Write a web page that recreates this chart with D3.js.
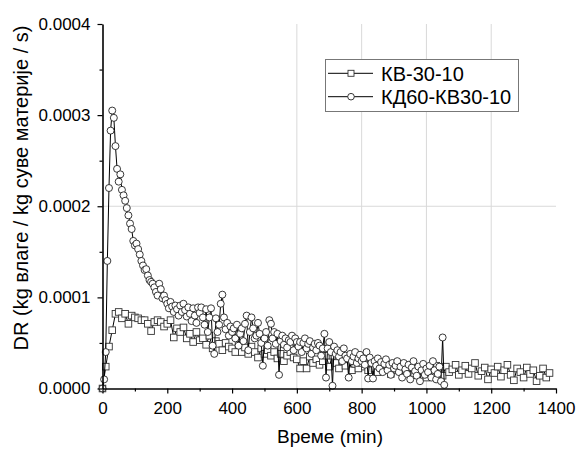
<!DOCTYPE html>
<html><head><meta charset="utf-8">
<script src="https://cdn.jsdelivr.net/npm/d3@7"></script>
<style>
body{margin:0;background:#fff}
svg{display:block}
text{font-family:"Liberation Sans",Arial,sans-serif;fill:#000}
</style>
</head><body>
<svg id="chart" width="576" height="449"></svg>
<script>
// ---------- data (DR values in units of 1e-4 kg/kg/s) ----------
const seriesNames = ["КВ-30-10", "КД60-КВ30-10"];
const valueUnit = 1e-4;
const squareStepMin = 10;   // КВ-30-10 sampling interval (min)
const squareValues = [
  0.00,0.24,0.46,0.64,0.82,0.84,0.77,0.82,0.71,0.80,0.78,
  0.77,0.75,0.75,0.71,0.63,0.73,0.75,0.73,0.68,0.71,
  0.75,0.56,0.66,0.62,0.67,0.55,0.60,0.51,0.62,0.53,
  0.55,0.48,0.58,0.44,0.52,0.49,0.42,0.50,0.46,0.44,
  0.40,0.48,0.40,0.45,0.38,0.46,0.40,0.34,0.44,0.38,
  0.42,0.36,0.40,0.33,0.38,0.30,0.36,0.40,0.34,0.32,
  0.22,0.30,0.22,0.35,0.28,0.32,0.26,0.30,0.36,0.24,
  0.36,0.28,0.22,0.30,0.25,0.32,0.20,0.27,0.22,0.28,
  0.24,0.20,0.28,0.22,0.18,0.26,0.21,0.24,0.16,0.25,
  0.20,0.24,0.17,0.22,0.26,0.15,0.21,0.19,0.24,0.12,
  0.22,0.17,0.25,0.20,0.14,0.24,0.18,0.21,0.26,0.15,
  0.20,0.25,0.16,0.22,0.28,0.14,0.19,0.23,0.10,0.21,
  0.17,0.24,0.13,0.20,0.26,0.15,0.09,0.22,0.18,0.12,
  0.23,0.16,0.20,0.08,0.14,0.22,0.12,0.17
];
const circleStepMin = 5;    // КД60-КВ30-10 sampling interval (min)
const circleValues = [
  0.00,0.10,0.40,1.40,2.20,2.83,3.05,2.97,2.66,2.41,2.27,2.35,2.18,2.12,2.06,1.98,1.90,1.81,1.75,1.62,1.57,1.59,1.53,1.47,1.40,
  1.35,1.30,1.31,1.24,1.19,1.17,1.15,1.11,1.06,1.02,1.15,1.09,0.99,1.02,0.97,0.93,
  0.88,0.95,0.90,0.84,0.91,0.87,0.80,0.91,0.84,0.93,0.86,0.79,0.89,0.82,0.74,0.88,0.80,0.72,0.89,0.83,
  0.89,0.78,0.70,0.87,0.62,0.78,0.88,0.47,0.38,0.77,0.62,0.70,0.93,1.03,0.78,0.65,0.72,0.58,0.68,0.62,
  0.66,0.55,0.70,0.47,0.60,0.66,0.52,0.71,0.80,0.42,0.62,0.78,0.66,0.55,0.58,0.72,0.60,0.50,0.25,0.55,
  0.62,0.47,0.75,0.71,0.55,0.62,0.49,0.60,0.15,0.52,0.58,0.48,0.55,0.45,0.53,0.51,0.58,0.42,0.55,0.51,
  0.46,0.51,0.40,0.50,0.55,0.44,0.49,0.52,0.38,0.45,0.49,0.42,0.50,0.47,0.36,0.44,0.60,0.12,0.44,0.51,
  0.40,0.03,0.46,0.38,0.42,0.35,0.40,0.30,0.44,0.36,0.33,0.12,0.38,0.30,0.35,0.40,0.28,0.33,0.37,0.30,
  0.33,0.26,0.40,0.11,0.34,0.28,0.11,0.30,0.25,0.33,0.22,0.29,0.18,0.27,0.32,0.20,0.26,0.15,0.28,0.22,
  0.25,0.30,0.18,0.24,0.12,0.28,0.21,0.16,0.26,0.10,0.23,0.30,0.19,0.14,0.24,0.08,0.20,0.27,0.15,0.22,
  0.18,0.25,0.12,0.30,0.20,0.10,0.16,0.24,0.08,0.56,0.04
];
const xTicks = [0,200,400,600,800,1000,1200,1400];
const xMinorTicks = [100,300,500,700,900,1100,1300];
const yTicks = [0,0.0001,0.0002,0.0003,0.0004];
const yTickLabels = ["0.0000","0.0001","0.0002","0.0003","0.0004"];
const yMinorTicks = [0.00005,0.00015,0.00025,0.00035];
const xGridValues = [600,800,1000,1200];
const yGridValues = [0.0002];
const xTitle = "Време (min)";
const yTitle = "DR (kg влаге / kg суве материје / s)";

// ---------- build ----------
const squares = squareValues.map((v,i)=>({t:i*squareStepMin, v:v*valueUnit}));
const circles = circleValues.map((v,i)=>({t:i*circleStepMin, v:v*valueUnit}));

const svg = d3.select("#chart");
const L = 102.5, R = 556, T = 24, B = 388.5;
const x = d3.scaleLinear().domain([0,1400]).range([L,R]);
const y = d3.scaleLinear().domain([0,0.0004]).range([B,T]);

// grid
svg.append("g").selectAll("line").data(xGridValues).join("line")
  .attr("x1",d=>x(d)).attr("x2",d=>x(d)).attr("y1",T).attr("y2",B)
  .attr("stroke","#d9d9d9").attr("stroke-width",1);
svg.append("g").selectAll("line").data(yGridValues).join("line")
  .attr("x1",L).attr("x2",R).attr("y1",d=>y(d)).attr("y2",d=>y(d))
  .attr("stroke","#d9d9d9").attr("stroke-width",1);

// series
const line = d3.line().x(d=>x(d.t)).y(d=>y(d.v));
const gS = svg.append("g");
gS.append("path").datum(squares).attr("d",line).attr("fill","none").attr("stroke","#000").attr("stroke-width",1);
gS.selectAll("rect").data(squares).join("rect")
  .attr("x",d=>x(d.t)-3.3).attr("y",d=>y(d.v)-3.3).attr("width",6.6).attr("height",6.6)
  .attr("fill","#fff").attr("stroke","#333").attr("stroke-width",0.9);
const gC = svg.append("g");
gC.append("path").datum(circles).attr("d",line).attr("fill","none").attr("stroke","#000").attr("stroke-width",1);
gC.selectAll("circle").data(circles).join("circle")
  .attr("cx",d=>x(d.t)).attr("cy",d=>y(d.v)).attr("r",3.5)
  .attr("fill","#fff").attr("stroke","#222").attr("stroke-width",0.9);

// axes
const fmt = d => yTickLabels[yTicks.indexOf(d)];
svg.append("g").attr("transform",`translate(0,${B})`)
  .call(d3.axisBottom(x).tickValues(xTicks).tickFormat(d3.format("d")).tickSize(5).tickSizeOuter(0).tickPadding(8));
svg.append("g").attr("transform",`translate(0,${B})`)
  .call(d3.axisBottom(x).tickValues(xMinorTicks).tickSize(3).tickFormat("")).select(".domain").remove();
svg.append("g").attr("transform",`translate(${L},0)`)
  .call(d3.axisLeft(y).tickValues(yTicks).tickFormat(fmt).tickSize(5).tickSizeOuter(0).tickPadding(7));
svg.append("g").attr("transform",`translate(${L},0)`)
  .call(d3.axisLeft(y).tickValues(yMinorTicks).tickSize(3).tickFormat("")).select(".domain").remove();
svg.selectAll(".domain").attr("stroke","#000").attr("stroke-width",1.6);
svg.selectAll(".tick line").attr("stroke","#000").attr("stroke-width",1.2);
svg.selectAll(".tick text").attr("font-family","Liberation Sans, Arial, sans-serif").attr("font-size",17).attr("fill","#000");

// titles
svg.append("text").attr("x",330).attr("y",443).attr("text-anchor","middle")
  .attr("font-size",19).text(xTitle);
svg.append("text").attr("transform","translate(28,188) rotate(-90)").attr("text-anchor","middle")
  .attr("font-size",20).text(yTitle);

// legend
const lg = svg.append("g");
lg.append("rect").attr("x",325.5).attr("y",59.5).attr("width",193).attr("height",52)
  .attr("fill","#fff").attr("stroke","#777").attr("stroke-width",1);
const rows = [73.3, 96.7];
seriesNames.forEach((name,i)=>{
  const cy = rows[i];
  lg.append("line").attr("x1",328).attr("x2",373).attr("y1",cy).attr("y2",cy).attr("stroke","#000").attr("stroke-width",1);
  if(i===0){
    lg.append("rect").attr("x",351-3).attr("y",cy-3).attr("width",6).attr("height",6)
      .attr("fill","#fff").attr("stroke","#333").attr("stroke-width",0.9);
  } else {
    lg.append("circle").attr("cx",351).attr("cy",cy).attr("r",3.3)
      .attr("fill","#fff").attr("stroke","#222").attr("stroke-width",0.9);
  }
  lg.append("text").attr("x",381).attr("y",cy+7.5).attr("font-size",20).text(name);
});
</script>
</body></html>
